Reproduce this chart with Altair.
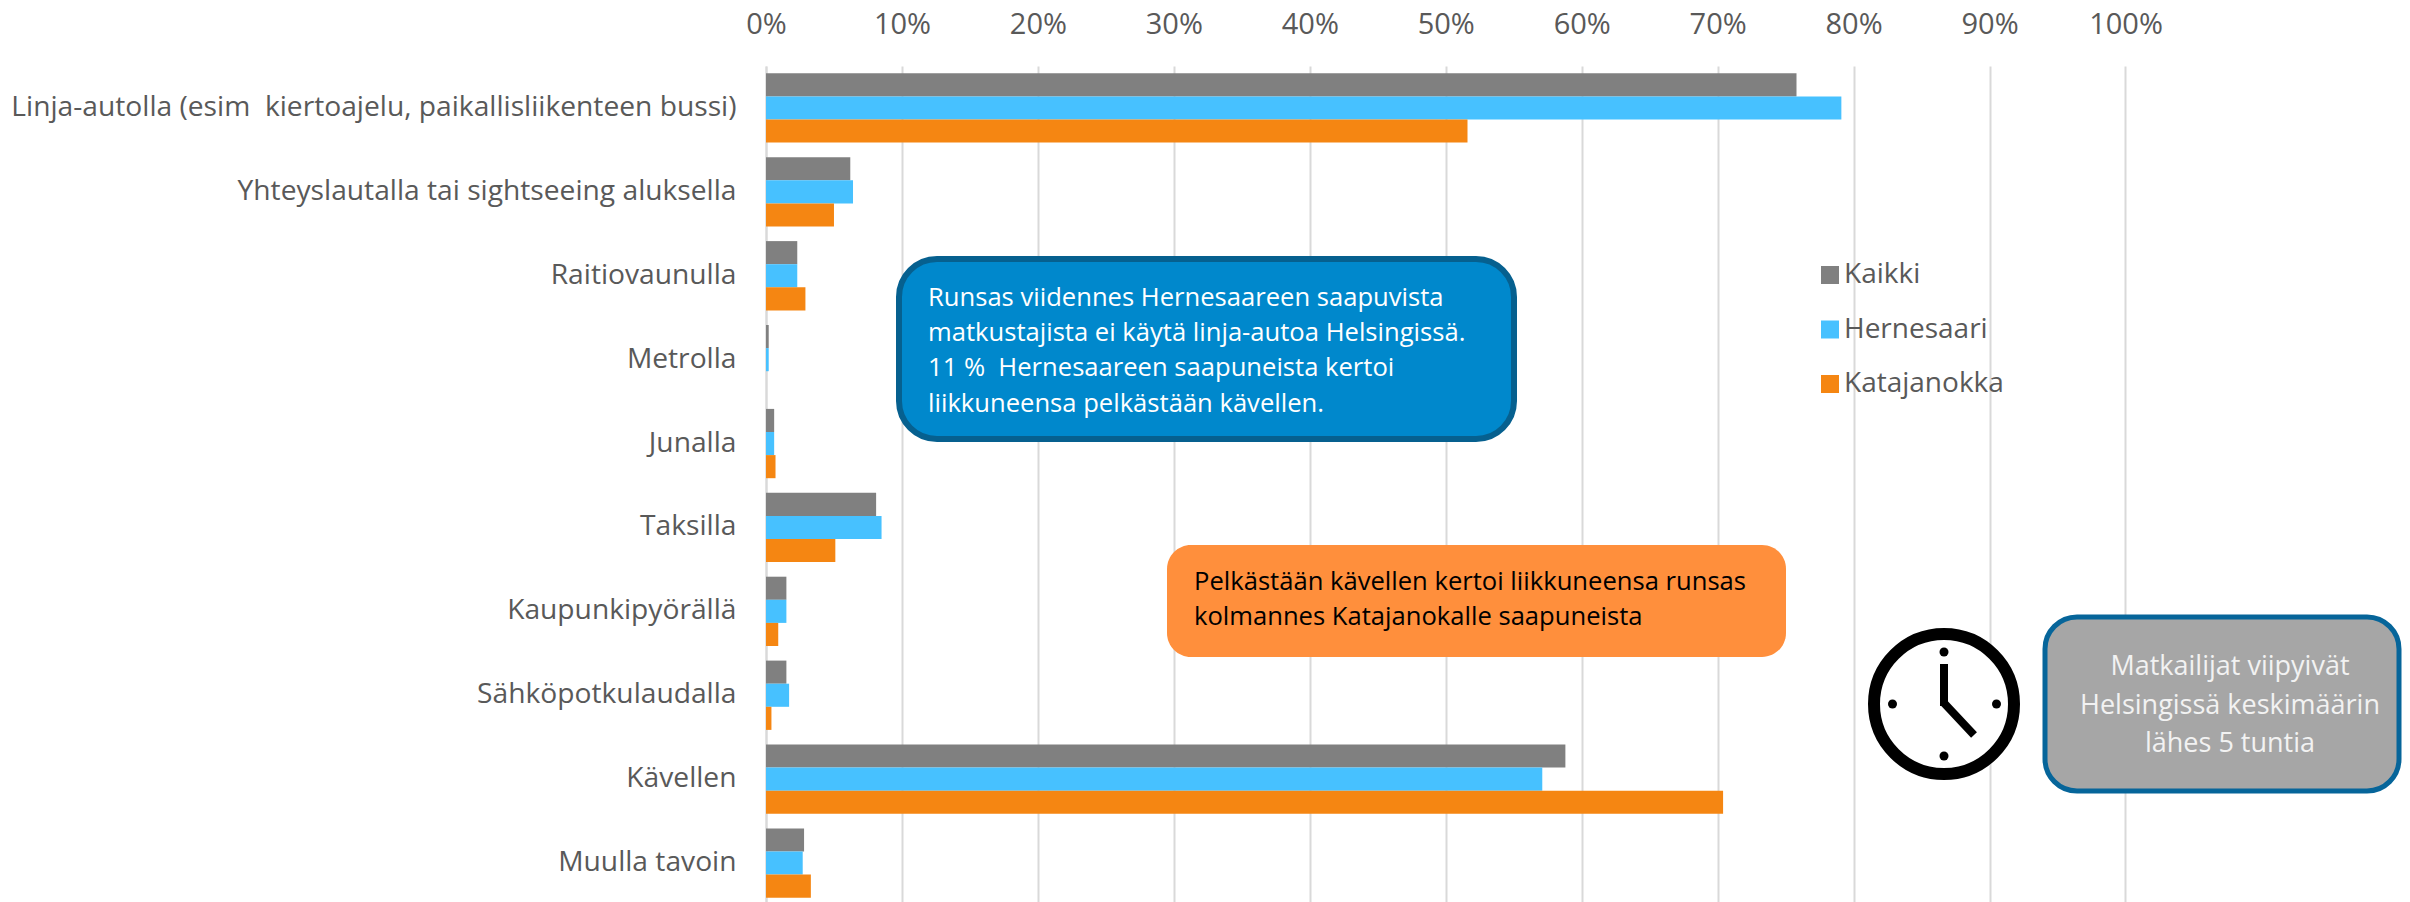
import altair as alt
import pandas as pd

categories = ["Linja-autolla (esim\u00a0 kiertoajelu, paikallisliikenteen bussi)",
              "Yhteyslautalla tai sightseeing aluksella", "Raitiovaunulla", "Metrolla", "Junalla",
              "Taksilla", "Kaupunkipyörällä", "Sähköpotkulaudalla", "Kävellen", "Muulla tavoin"]
series = ["Kaikki", "Hernesaari", "Katajanokka"]
colors = ["#808080", "#47C1FF", "#F58612"]
kaikki = [75.8, 6.2, 2.3, 0.2, 0.6, 8.1, 1.5, 1.5, 58.8, 2.8]
hernesaari = [79.1, 6.4, 2.3, 0.2, 0.6, 8.5, 1.5, 1.7, 57.1, 2.7]
katajanokka = [51.6, 5.0, 2.9, 0.0, 0.7, 5.1, 0.9, 0.4, 70.4, 3.3]
ticks = [i / 10 for i in range(11)]

blue_text = ["Runsas viidennes Hernesaareen saapuvista",
             "matkustajista ei käytä linja-autoa Helsingissä.",
             "11 %\u00a0 Hernesaareen saapuneista kertoi",
             "liikkuneensa pelkästään kävellen."]
orange_text = ["Pelkästään kävellen kertoi liikkuneensa runsas",
               "kolmannes Katajanokalle saapuneista"]
gray_text = ["Matkailijat viipyivät", "Helsingissä keskimäärin", "lähes 5 tuntia"]

FONT = "Open Sans"
X0, Y0 = 766, 66
W, H = 1636, 839

rows = []
for name, vals in zip(series, [kaikki, hernesaari, katajanokka]):
    for c, v in zip(categories, vals):
        rows.append({"cat": c, "series": name, "value": v / 100})
df = pd.DataFrame(rows)

one = alt.Chart(pd.DataFrame({"a": [0]}))

def px(x):
    return alt.value(x - X0)

def py(y):
    return alt.value(y - Y0)

bars = alt.Chart(df).mark_bar().encode(
    y=alt.Y("cat:N", sort=categories, title=None,
            scale=alt.Scale(paddingInner=0.174, paddingOuter=0.087),
            axis=alt.Axis(labelFont=FONT, labelFontSize=28.2, labelColor="#595959", labelPadding=30,
                          ticks=False, domainColor="#D9D9D9", domainWidth=2, labelLimit=800)),
    x=alt.X("value:Q", title=None,
            scale=alt.Scale(domain=[0, W / 1359.5], nice=False),
            axis=alt.Axis(orient="top", values=ticks, format=".0%", labelFont=FONT, labelFontSize=29,
                          labelColor="#595959", labelPadding=27, ticks=False, domain=False,
                          grid=True, gridColor="#D9D9D9", gridWidth=2, labelFlush=False)),
    yOffset=alt.YOffset("series:N", sort=series),
    color=alt.Color("series:N", sort=series, scale=alt.Scale(domain=series, range=colors),
                    legend=alt.Legend(orient="none", legendX=1816 - X0, legendY=261 - Y0, title=None,
                                      symbolType="square", symbolSize=324, symbolStrokeWidth=0,
                                      labelFont=FONT, labelFontSize=28, labelColor="#595959",
                                      rowPadding=26.5, labelOffset=0)),
)

def box(x1, x2, y1, y2, fill, stroke=None, sw=0, r=30):
    kw = dict(fill=fill, cornerRadius=r)
    if stroke:
        kw.update(stroke=stroke, strokeWidth=sw)
    return one.mark_rect(**kw).encode(x=px(x1), x2=px(x2), y=py(y1), y2=py(y2))

def lines(texts, x, ys, color, size, align="left"):
    d = pd.DataFrame({"t": texts, "yy": [y - Y0 for y in ys]})
    return alt.Chart(d).mark_text(font=FONT, fontSize=size, color=color, align=align,
                                  baseline="middle").encode(
        text="t:N", x=px(x), y=alt.Y("yy:Q", scale=None))

def seg(x1, y1, x2, y2, w):
    return one.mark_rule(color="black", strokeWidth=w).encode(x=px(x1), x2=px(x2), y=py(y1), y2=py(y2))

def dot(x, y, size, stroke=None, sw=0, fill="black"):
    kw = dict(filled=True, fill=fill, opacity=1, shape="circle", size=size)
    if stroke:
        kw.update(stroke=stroke, strokeWidth=sw)
    return one.mark_point(**kw).encode(x=px(x), y=py(y))

layers = [
    bars,
    box(899, 1514, 259, 439, "#0088CC", "#06608F", 6, 38),
    lines(blue_text, 928, [298, 333, 368, 404], "white", 25.6),
    box(1167, 1786, 545, 657, "#FF8F3C", None, 0, 24),
    lines(orange_text, 1194, [582, 617], "black", 25.6),
    box(2045, 2399, 617, 791, "#A6A6A6", "#06659A", 5, 32),
    lines(gray_text, 2230, [667, 706, 744], "#F2F2F2", 27, "center"),
    dot(1944, 704, 19600, "black", 12, "white"),
    dot(1944, 652, 81), dot(1944, 756, 81), dot(1892.5, 704, 81), dot(1996.5, 704, 81),
    seg(1944, 664, 1944, 706, 8),
    seg(1944, 703, 1974, 735, 8),
]

chart = alt.layer(*layers).properties(
    width=W, height=H,
    autosize=alt.AutoSizeParams(type="none"),
    padding={"left": X0 - 8, "top": Y0 - 8, "right": 0, "bottom": 0},
).configure_view(stroke=None)

chart.save("out.html", embed_options={"renderer": "svg", "actions": False})
